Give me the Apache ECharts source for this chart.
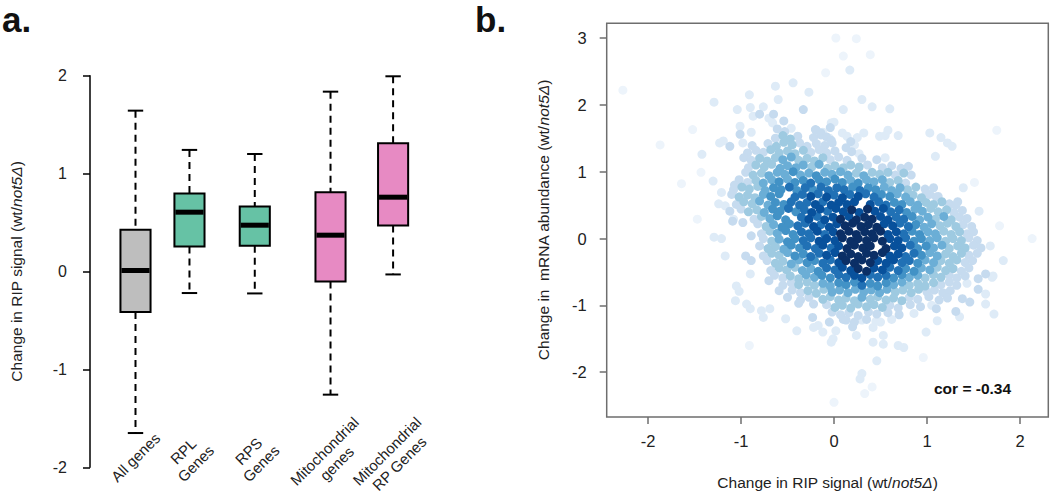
<!DOCTYPE html>
<html>
<head>
<meta charset="utf-8">
<script src="https://cdn.jsdelivr.net/npm/echarts@6/dist/echarts.min.js"></script>
<style>
html,body{margin:0;padding:0;background:#ffffff;}
#chart{width:1050px;height:495px;}
</style>
</head>
<body>
<div id="chart"></div>
<script>
// ---------- Panel a: box plot data ----------
const boxCategories = ['All genes', 'RPL\nGenes', 'RPS\nGenes', 'Mitochondrial\ngenes', 'Mitochondrial\nRP Genes'];
const whiskerLow  = [-1.65, -0.22, -0.224, -1.258, -0.03];
const quartile1   = [-0.414, 0.255, 0.262, -0.102, 0.469];
const medians     = [0.01, 0.606, 0.473, 0.371, 0.759];
const quartile3   = [0.426, 0.796, 0.663, 0.81, 1.31];
const whiskerHigh = [1.643, 1.242, 1.20, 1.837, 1.994];
const boxTickValues = [-2, -1, 0, 1, 2];

// ---------- Panel b: scatter data, triples (RIP change x, mRNA change y, density shade 0-8) ----------
const scatterXTicks = [-2, -1, 0, 1, 2];
const scatterYTicks = [-2, -1, 0, 1, 2, 3];
const corText = 'cor = -0.34';
const cloudRows = [
 [-0.61,1.64,2, -0.53,1.60,2, -0.46,1.65,1, -0.20,1.63,2, -0.12,1.59,1, -0.04,1.66,2],
 [-0.63,1.50,2, -0.55,1.54,3, -0.47,1.49,3, -0.39,1.53,2, -0.22,1.51,2, -0.14,1.55,2, -0.05,1.50,1, 0.14,1.53,1],
 [-0.98,1.43,1, -0.88,1.39,2, -0.71,1.42,2, -0.62,1.38,3, -0.54,1.44,3, -0.45,1.40,3, -0.37,1.43,2, -0.29,1.38,2, -0.19,1.42,2, -0.10,1.39,2, -0.02,1.43,2, 0.22,1.40,1],
 [-0.93,1.28,2, -0.84,1.32,2, -0.76,1.29,2, -0.68,1.33,3, -0.59,1.28,3, -0.50,1.31,3, -0.42,1.27,3, -0.33,1.32,3, -0.25,1.29,2, -0.16,1.33,2, -0.08,1.28,2, 0.01,1.31,2, 0.19,1.30,2, 0.27,1.27,1],
 [-0.97,1.21,2, -0.89,1.17,2, -0.80,1.20,3, -0.72,1.16,3, -0.63,1.21,3, -0.55,1.18,4, -0.46,1.22,4, -0.38,1.17,3, -0.29,1.20,3, -0.21,1.16,3, -0.12,1.21,3, -0.04,1.18,2, 0.05,1.22,2, 0.14,1.17,2, 0.30,1.20,2, 0.46,1.18,2, 0.55,1.21,1],
 [-0.92,1.06,2, -0.84,1.10,3, -0.75,1.07,3, -0.67,1.11,3, -0.58,1.05,4, -0.50,1.09,4, -0.41,1.06,4, -0.33,1.10,4, -0.24,1.07,3, -0.16,1.11,4, -0.07,1.05,3, 0.01,1.09,3, 0.10,1.06,3, 0.18,1.10,3, 0.27,1.07,3, 0.36,1.10,2, 0.52,1.06,2, 0.62,1.09,2, 0.72,1.05,2, 0.80,1.08,2],
 [-0.95,0.99,2, -0.87,0.95,3, -0.78,0.98,3, -0.70,0.94,4, -0.61,0.99,4, -0.53,0.96,4, -0.44,1.00,5, -0.36,0.95,4, -0.27,0.98,4, -0.19,0.94,5, -0.10,0.99,4, -0.02,0.96,4, 0.07,1.00,4, 0.15,0.95,4, 0.24,0.98,3, 0.32,0.94,4, 0.41,0.99,3, 0.49,0.96,3, 0.58,0.99,3, 0.66,0.95,2, 0.75,0.98,3, 0.83,0.95,2],
 [-1.02,0.88,2, -0.93,0.84,2, -0.84,0.87,3, -0.76,0.83,4, -0.67,0.88,4, -0.59,0.85,5, -0.50,0.89,4, -0.42,0.84,5, -0.33,0.87,5, -0.25,0.83,6, -0.16,0.88,5, -0.08,0.85,5, 0.01,0.89,5, 0.09,0.84,5, 0.18,0.87,4, 0.26,0.83,5, 0.35,0.88,4, 0.43,0.85,4, 0.52,0.88,4, 0.60,0.84,3, 0.69,0.87,3, 0.77,0.83,2],
 [-1.08,0.73,2, -0.99,0.77,3, -0.91,0.74,3, -0.82,0.78,3, -0.74,0.72,4, -0.65,0.76,5, -0.57,0.73,5, -0.48,0.77,6, -0.40,0.72,5, -0.31,0.76,6, -0.23,0.73,5, -0.14,0.77,6, -0.06,0.72,6, 0.03,0.76,6, 0.11,0.73,6, 0.20,0.77,5, 0.28,0.72,6, 0.37,0.76,5, 0.45,0.73,5, 0.54,0.77,4, 0.62,0.72,4, 0.71,0.76,4, 0.79,0.73,3, 0.88,0.77,3, 0.98,0.74,2, 1.07,0.76,2],
 [-1.10,0.66,2, -1.02,0.62,3, -0.93,0.65,3, -0.85,0.61,3, -0.76,0.66,4, -0.68,0.63,5, -0.59,0.67,5, -0.42,0.62,6, -0.34,0.66,6, -0.25,0.63,7, -0.17,0.67,6, -0.08,0.62,7, 0.00,0.65,6, 0.09,0.61,7, 0.17,0.66,6, 0.26,0.63,7, 0.34,0.67,6, 0.43,0.62,6, 0.51,0.66,5, 0.60,0.63,5, 0.68,0.67,4, 0.77,0.62,4, 0.85,0.65,3, 0.94,0.61,3, 1.03,0.66,2, 1.12,0.63,2],
 [-1.05,0.51,2, -0.97,0.55,3, -0.88,0.52,3, -0.80,0.56,4, -0.71,0.50,4, -0.63,0.54,5, -0.54,0.51,5, -0.46,0.55,6, -0.37,0.50,6, -0.29,0.54,6, -0.20,0.51,7, -0.12,0.55,6, -0.03,0.50,7, 0.05,0.54,7, 0.14,0.51,7, 0.22,0.55,7, 0.39,0.51,7, 0.48,0.55,6, 0.56,0.50,6, 0.65,0.54,5, 0.73,0.51,5, 0.82,0.55,4, 0.90,0.50,4, 0.99,0.54,3, 1.07,0.51,3, 1.16,0.55,3, 1.24,0.52,2, 1.33,0.55,2],
 [-1.00,0.44,2, -0.92,0.40,3, -0.83,0.43,3, -0.75,0.39,4, -0.66,0.44,5, -0.58,0.41,5, -0.49,0.45,6, -0.41,0.40,5, -0.32,0.43,6, -0.24,0.39,7, -0.15,0.44,7, -0.07,0.41,6, 0.02,0.45,7, 0.10,0.40,7, 0.19,0.43,8, 0.27,0.39,7, 0.36,0.44,8, 0.44,0.41,7, 0.53,0.45,7, 0.61,0.40,6, 0.70,0.43,6, 0.78,0.39,5, 0.87,0.44,4, 0.95,0.41,4, 1.04,0.45,3, 1.12,0.40,3, 1.21,0.43,3, 1.29,0.39,2, 1.38,0.42,2],
 [-0.86,0.29,2, -0.78,0.33,3, -0.69,0.30,4, -0.61,0.34,5, -0.52,0.28,5, -0.35,0.32,6, -0.27,0.29,7, -0.18,0.33,6, -0.10,0.28,7, -0.01,0.32,7, 0.07,0.29,8, 0.16,0.33,7, 0.24,0.28,8, 0.33,0.32,8, 0.41,0.29,8, 0.50,0.33,7, 0.58,0.28,7, 0.67,0.32,6, 0.75,0.29,6, 0.84,0.33,5, 0.92,0.28,4, 1.01,0.32,4, 1.09,0.29,3, 1.18,0.33,4, 1.26,0.28,3, 1.35,0.32,2, 1.43,0.30,2],
 [-0.82,0.22,2, -0.73,0.18,3, -0.65,0.21,4, -0.56,0.17,5, -0.48,0.22,5, -0.39,0.19,6, -0.31,0.23,6, -0.22,0.18,7, -0.14,0.21,6, -0.05,0.17,7, 0.03,0.22,7, 0.12,0.19,8, 0.20,0.23,8, 0.29,0.18,8, 0.37,0.21,8, 0.46,0.17,8, 0.54,0.22,7, 0.63,0.19,7, 0.71,0.23,6, 0.80,0.18,6, 0.88,0.21,5, 0.97,0.17,4, 1.05,0.22,4, 1.14,0.19,3, 1.22,0.23,3, 1.31,0.18,3, 1.39,0.21,2, 1.48,0.18,2],
 [-0.78,0.07,2, -0.69,0.11,3, -0.61,0.08,4, -0.52,0.12,5, -0.44,0.06,5, -0.35,0.10,6, -0.27,0.07,6, -0.18,0.11,7, -0.10,0.06,6, -0.01,0.10,7, 0.07,0.07,8, 0.16,0.11,8, 0.24,0.06,8, 0.33,0.10,8, 0.41,0.07,8, 0.50,0.11,8, 0.58,0.06,7, 0.67,0.10,7, 0.75,0.07,6, 0.84,0.11,5, 0.92,0.06,5, 1.01,0.10,4, 1.09,0.07,4, 1.18,0.11,3, 1.26,0.06,3, 1.35,0.10,3, 1.43,0.07,2, 1.50,0.10,2],
 [-0.76,0.00,2, -0.67,-0.04,3, -0.59,-0.01,4, -0.50,-0.05,5, -0.42,0.00,5, -0.33,-0.03,6, -0.25,0.01,6, -0.16,-0.04,7, -0.08,0.00,7, 0.01,-0.03,7, 0.09,0.01,8, 0.18,-0.04,8, 0.26,0.00,8, 0.35,-0.03,8, 0.43,0.01,8, 0.52,-0.04,8, 0.60,0.00,7, 0.69,-0.03,7, 0.77,0.01,6, 0.86,-0.04,5, 0.94,0.00,5, 1.03,-0.03,4, 1.11,0.01,4, 1.20,-0.04,3, 1.28,0.00,3, 1.37,-0.03,3, 1.45,0.01,2, 1.54,-0.03,2],
 [-0.80,-0.11,2, -0.71,-0.15,3, -0.63,-0.12,3, -0.54,-0.16,4, -0.46,-0.10,5, -0.37,-0.14,5, -0.29,-0.11,6, -0.20,-0.15,6, -0.12,-0.10,7, -0.03,-0.14,6, 0.05,-0.11,7, 0.14,-0.15,8, 0.22,-0.10,8, 0.31,-0.14,8, 0.39,-0.11,8, 0.56,-0.15,8, 0.65,-0.11,7, 0.73,-0.14,7, 0.82,-0.10,6, 0.90,-0.15,5, 0.99,-0.11,5, 1.07,-0.14,4, 1.16,-0.10,4, 1.24,-0.15,3, 1.33,-0.11,3, 1.41,-0.14,3, 1.50,-0.10,2, 1.58,-0.14,2],
 [-0.76,-0.26,2, -0.67,-0.22,3, -0.59,-0.25,3, -0.50,-0.21,4, -0.42,-0.26,5, -0.33,-0.23,5, -0.25,-0.27,6, -0.16,-0.22,6, -0.08,-0.25,7, 0.01,-0.21,7, 0.09,-0.26,8, 0.18,-0.23,8, 0.26,-0.27,8, 0.35,-0.22,8, 0.43,-0.25,8, 0.52,-0.21,8, 0.60,-0.26,7, 0.69,-0.23,7, 0.77,-0.27,6, 0.86,-0.22,6, 0.94,-0.25,5, 1.03,-0.21,4, 1.11,-0.26,4, 1.20,-0.23,3, 1.28,-0.27,3, 1.37,-0.22,3, 1.45,-0.25,2, 1.54,-0.22,2],
 [-0.72,-0.33,2, -0.63,-0.37,3, -0.55,-0.34,3, -0.46,-0.38,4, -0.38,-0.32,4, -0.29,-0.36,5, -0.21,-0.33,5, -0.12,-0.37,6, -0.04,-0.32,6, 0.05,-0.36,7, 0.13,-0.33,8, 0.22,-0.37,8, 0.30,-0.32,8, 0.39,-0.36,8, 0.47,-0.33,7, 0.56,-0.37,7, 0.64,-0.32,7, 0.73,-0.36,6, 0.81,-0.33,6, 0.90,-0.37,5, 0.98,-0.32,4, 1.07,-0.36,4, 1.15,-0.33,3, 1.24,-0.37,3, 1.32,-0.32,3, 1.41,-0.36,2, 1.49,-0.33,2],
 [-0.68,-0.48,2, -0.59,-0.44,3, -0.51,-0.47,3, -0.42,-0.43,3, -0.34,-0.48,4, -0.25,-0.45,4, -0.17,-0.49,5, -0.08,-0.44,6, 0.01,-0.47,6, 0.09,-0.43,7, 0.18,-0.48,7, 0.26,-0.45,8, 0.35,-0.49,8, 0.43,-0.44,7, 0.52,-0.47,7, 0.60,-0.43,6, 0.69,-0.48,6, 0.77,-0.45,5, 0.86,-0.49,5, 0.94,-0.44,4, 1.03,-0.47,4, 1.11,-0.43,3, 1.20,-0.48,3, 1.28,-0.45,3, 1.37,-0.49,2, 1.45,-0.44,2],
 [-0.64,-0.55,2, -0.55,-0.59,2, -0.47,-0.56,3, -0.38,-0.60,3, -0.30,-0.54,4, -0.21,-0.58,4, -0.13,-0.55,5, -0.04,-0.59,5, 0.05,-0.54,6, 0.13,-0.58,6, 0.22,-0.55,7, 0.30,-0.59,7, 0.39,-0.54,6, 0.47,-0.58,6, 0.56,-0.55,6, 0.64,-0.59,5, 0.73,-0.54,5, 0.81,-0.58,4, 0.90,-0.55,4, 0.98,-0.59,3, 1.07,-0.54,3, 1.15,-0.58,3, 1.24,-0.55,2, 1.32,-0.59,2, 1.41,-0.56,2],
 [-0.55,-0.70,2, -0.46,-0.66,2, -0.38,-0.69,3, -0.29,-0.65,3, -0.21,-0.70,3, -0.12,-0.67,4, -0.04,-0.71,4, 0.05,-0.66,5, 0.13,-0.69,5, 0.22,-0.65,5, 0.30,-0.70,6, 0.39,-0.67,5, 0.47,-0.71,5, 0.56,-0.66,5, 0.64,-0.69,4, 0.73,-0.65,4, 0.81,-0.70,3, 0.90,-0.67,3, 0.98,-0.71,3, 1.07,-0.66,3, 1.15,-0.69,2, 1.24,-0.65,2, 1.32,-0.70,2, 1.43,-0.67,1],
 [-0.45,-0.77,2, -0.36,-0.81,2, -0.28,-0.78,3, -0.19,-0.82,3, -0.11,-0.76,3, -0.02,-0.80,4, 0.06,-0.77,4, 0.15,-0.81,4, 0.23,-0.76,4, 0.32,-0.80,4, 0.40,-0.77,4, 0.49,-0.81,4, 0.57,-0.76,4, 0.66,-0.80,3, 0.74,-0.77,3, 0.83,-0.81,3, 0.91,-0.76,3, 1.00,-0.80,2, 1.08,-0.77,2, 1.17,-0.81,2, 1.25,-0.78,2],
 [-0.36,-0.92,2, -0.27,-0.88,2, -0.12,-0.91,3, -0.04,-0.87,3, 0.05,-0.92,3, 0.13,-0.89,3, 0.22,-0.93,3, 0.30,-0.88,4, 0.39,-0.91,3, 0.47,-0.87,3, 0.56,-0.92,3, 0.64,-0.89,3, 0.73,-0.93,3, 0.81,-0.88,2, 0.90,-0.91,2, 1.02,-0.87,2, 1.13,-0.92,2, 1.22,-0.89,2],
 [-0.08,-0.99,2, 0.01,-1.03,3, 0.09,-1.00,3, 0.18,-1.04,3, 0.26,-0.98,3, 0.35,-1.02,3, 0.43,-0.99,3, 0.52,-1.03,3, 0.60,-1.00,2, 0.69,-1.04,2, 0.82,-0.99,2, 0.93,-1.02,2, 1.05,-1.00,1],
 [-0.02,-1.10,2, 0.07,-1.14,2, 0.16,-1.11,2, 0.26,-1.15,2, 0.37,-1.10,2, 0.46,-1.13,2, 0.58,-1.11,2, 0.70,-1.14,2, 0.86,-1.12,1],
 [0.10,-1.21,2, 0.22,-1.25,2, 0.30,-1.22,1, 0.45,-1.24,1, 0.62,-1.21,1]
];
const fringePoints = [
 [-2.27,2.22,0],[-1.87,1.40,0],[-1.64,0.82,0],[-1.43,0.99,0],[-1.52,1.63,0],[-1.42,1.26,1],[-1.47,0.29,0],
 [-1.30,0.86,1],[-1.29,0.02,1],[-1.21,0.00,1],[-1.17,-0.26,1],[-1.29,2.04,1],[-1.19,1.46,1],[-1.23,1.43,1],
 [-1.12,1.38,2],[-1.21,0.69,1],[-1.17,0.49,1],[-1.12,0.41,2],[-1.08,0.29,1],[-1.04,1.93,1],[-1.01,1.68,1],
 [-1.01,1.56,2],[-0.90,1.96,1],[-0.91,2.15,1],[-0.87,1.83,1],[-0.80,1.86,2],[-0.76,1.97,1],[-0.63,2.28,1],
 [-0.60,2.08,1],[-0.44,2.33,1],[-0.27,2.19,1],[-0.33,1.93,2],[-0.54,1.76,2],[-0.65,1.86,2],[-0.70,1.80,1],
 [-0.66,1.73,1],[-0.89,1.59,1],[-1.07,0.80,2],[-1.02,0.62,2],[-1.24,0.52,1],[-1.09,0.26,2],[-0.98,0.24,2],
 [0.02,3.00,0],[0.24,2.99,0],[0.10,2.73,0],[0.17,2.52,1],[0.39,2.75,0],[-0.09,2.48,0],[0.30,2.08,1],
 [0.41,1.97,1],[0.10,1.93,1],[-0.03,1.73,1],[0.60,1.94,1],[0.69,1.54,1],[0.49,1.53,1],[0.00,1.74,1],
 [0.09,1.58,1],[0.18,1.45,2],[0.13,1.36,2],[-0.19,1.62,2],[-0.14,1.58,2],[-0.08,1.52,2],[-0.03,1.47,2],
 [0.25,1.51,1],[0.32,1.58,1],[0.58,1.62,1],[0.55,1.54,1],
 [1.03,1.58,1],[1.15,1.51,1],[1.22,1.43,1],[1.27,1.38,1],[1.09,1.23,1],[1.75,1.62,0],[1.51,0.84,0],
 [1.39,0.76,1],[0.99,0.67,2],[1.10,0.62,2],[1.24,0.50,2],[1.31,0.50,2],[1.56,0.41,1],[1.78,0.19,0],
 [2.13,0.00,0],[1.68,-0.11,1],[1.82,-0.33,1],[1.63,-0.53,2],[1.70,-0.58,1],[1.55,-0.60,2],[1.55,-0.76,2],
 [1.63,-0.83,1],[1.71,-0.56,1],[1.38,-0.90,2],[1.46,-0.95,2],[1.63,-0.98,1],[1.31,-1.09,2],[1.35,-1.17,1],
 [1.72,-1.13,1],[1.10,-1.05,2],[1.11,-1.23,1],[0.99,-1.40,1],[0.96,-1.78,0],[0.75,-1.63,1],[0.69,-1.60,1],
 [0.46,-1.83,1],[0.42,-1.55,1],[0.53,-1.58,1],[0.30,-2.02,1],[0.28,-2.10,1],[0.41,-2.22,0],[0.33,-2.32,0],
 [0.00,-2.45,0],[-0.03,-1.55,1],[-0.01,-1.50,1],[0.24,-1.45,1],[-0.23,-1.18,2],[-0.17,-1.30,1],
 [-0.12,-1.40,1],[-0.05,-1.25,2],[0.02,-1.38,1],[0.13,-1.22,2],[0.20,-1.32,2],[0.35,-1.21,2],[0.42,-1.33,1],
 [0.50,-1.25,1],[0.53,-1.45,1],[-0.22,-1.33,1],[-0.40,-1.38,1],[-0.52,-1.20,1],[-0.91,-1.60,0],
 [-0.59,-0.78,2],[-0.70,-0.63,2],[-0.50,-0.88,2],[-0.38,-0.97,2],[-0.22,-0.98,2],
 [-0.89,0.04,2],[-0.95,-0.26,2],[-0.89,-0.33,2],[-0.90,-0.53,1],[-1.05,-0.71,1],[-1.02,-0.79,1],
 [-0.94,-0.98,1],[-0.90,-1.05,1],[-1.06,-0.93,1],[-0.76,-1.18,1],[-0.78,-1.08,1],[-0.69,-1.05,1]
];

// ---------- layout / style (not data) ----------
const boxSlots = [1, 1.771, 2.704, 3.786, 4.68];
const boxFill = ['#BEBEBE', '#66C2A5', '#66C2A5', '#E78AC3', '#E78AC3'];
const densityBlues = ['#EDF4FB', '#DEEBF7', '#C6DBEF', '#9ECAE1', '#6BAED6', '#4292C6', '#2171B5', '#08519C', '#0B2F66'];
const FONT = '"Liberation Sans", Arial, Helvetica, sans-serif';
const BOX_W = 0.43, CAP_W = 0.22;

const scatterPoints = [];
cloudRows.forEach(function (row) {
  for (let k = 0; k < row.length; k += 3) scatterPoints.push([row[k], row[k + 1], row[k + 2]]);
});
fringePoints.forEach(function (p) { scatterPoints.push(p); });
scatterPoints.sort(function (a, b) { return a[2] - b[2]; });

function renderBox(params, api) {
  const x = api.value(0);
  const lo = api.coord([x, api.value(1)]);
  const q1 = api.coord([x, api.value(2)]);
  const md = api.coord([x, api.value(3)]);
  const q3 = api.coord([x, api.value(4)]);
  const hi = api.coord([x, api.value(5)]);
  const bw = api.size([BOX_W, 0])[0];
  const cw = api.size([CAP_W, 0])[0];
  const cx = lo[0];
  const dash = { stroke: '#000', lineWidth: 2, lineDash: [7, 5], fill: null };
  const solid = { stroke: '#000', lineWidth: 2, fill: null };
  return {
    type: 'group',
    children: [
      { type: 'line', shape: { x1: cx, y1: hi[1], x2: cx, y2: q3[1] }, style: dash },
      { type: 'line', shape: { x1: cx, y1: q1[1], x2: cx, y2: lo[1] }, style: dash },
      { type: 'line', shape: { x1: cx - cw / 2, y1: hi[1], x2: cx + cw / 2, y2: hi[1] }, style: solid },
      { type: 'line', shape: { x1: cx - cw / 2, y1: lo[1], x2: cx + cw / 2, y2: lo[1] }, style: solid },
      { type: 'rect', shape: { x: cx - bw / 2, y: q3[1], width: bw, height: q1[1] - q3[1] },
        style: { fill: boxFill[params.dataIndex], stroke: '#000', lineWidth: 2 } },
      { type: 'line', shape: { x1: cx - bw / 2 + 1, y1: md[1], x2: cx + bw / 2 - 1, y2: md[1] },
        style: { stroke: '#000', lineWidth: 5 } }
    ]
  };
}

function renderBoxLabel(params, api) {
  const p = api.coord([api.value(0), api.value(1)]);
  return {
    type: 'text',
    x: p[0], y: p[1] - 10,
    rotation: Math.PI / 4,
    style: {
      text: boxCategories[params.dataIndex],
      font: '15px ' + FONT,
      fill: '#222',
      align: 'center',
      verticalAlign: 'middle',
      lineHeight: 17.5
    }
  };
}

const titleRich = {
  i: { fontStyle: 'italic', fontSize: 15.5, color: '#222', fontFamily: FONT }
};

const chart = echarts.init(document.getElementById('chart'), null, { renderer: 'svg' });
chart.setOption({
  animation: false,
  backgroundColor: '#ffffff',
  textStyle: { fontFamily: FONT },
  grid: [
    { left: 90, top: 75.7, width: 360.5, height: 391.6 },
    { left: 606.7, top: 23.3, width: 441.6, height: 395, show: true, borderColor: '#6e6e6e', borderWidth: 1.5, backgroundColor: 'transparent' }
  ],
  xAxis: [
    { gridIndex: 0, type: 'value', min: 0.35, max: 5.5, show: false },
    {
      gridIndex: 1, type: 'value', min: -2.444, max: 2.304,
      axisLine: { show: false, onZero: false },
      axisTick: { show: true, length: 7, customValues: scatterXTicks, lineStyle: { color: '#6e6e6e', width: 1.5 } },
      axisLabel: { customValues: scatterXTicks, fontSize: 16.5, color: '#222', margin: 15, fontFamily: FONT },
      splitLine: { show: false },
      name: 'Change in RIP signal (wt/{i|not5Δ})',
      nameLocation: 'middle', nameGap: 57,
      nameTextStyle: { fontSize: 15.5, color: '#222', fontFamily: FONT, rich: titleRich }
    }
  ],
  yAxis: [
    {
      gridIndex: 0, type: 'value', min: -2, max: 2,
      axisLine: { show: true, onZero: false, lineStyle: { color: '#000', width: 1.5 } },
      axisTick: { show: true, length: 7, customValues: boxTickValues, lineStyle: { color: '#000', width: 1.5 } },
      axisLabel: { customValues: boxTickValues, fontSize: 16, color: '#222', margin: 23, fontFamily: FONT },
      splitLine: { show: false },
      name: 'Change in RIP signal (wt/{i|not5Δ})',
      nameLocation: 'middle', nameGap: 66,
      nameTextStyle: { fontSize: 15.5, color: '#222', fontFamily: FONT, rich: titleRich }
    },
    {
      gridIndex: 1, type: 'value', min: -2.67, max: 3.22,
      axisLine: { show: false, onZero: false },
      axisTick: { show: true, length: 7, customValues: scatterYTicks, lineStyle: { color: '#6e6e6e', width: 1.5 } },
      axisLabel: { customValues: scatterYTicks, fontSize: 16.5, color: '#222', margin: 20, fontFamily: FONT },
      splitLine: { show: false },
      name: 'Change in  mRNA abundance (wt/{i|not5Δ})',
      nameLocation: 'middle', nameGap: 55,
      nameTextStyle: { fontSize: 15.5, color: '#222', fontFamily: FONT, rich: titleRich }
    }
  ],
  series: [
    {
      type: 'custom', xAxisIndex: 0, yAxisIndex: 0,
      renderItem: renderBox,
      encode: { x: 0, y: [1, 2, 3, 4, 5] },
      data: boxCategories.map(function (c, i) {
        return [boxSlots[i], whiskerLow[i], quartile1[i], medians[i], quartile3[i], whiskerHigh[i]];
      }),
      z: 3
    },
    {
      type: 'custom', xAxisIndex: 0, yAxisIndex: 0,
      renderItem: renderBoxLabel,
      encode: { x: 0, y: 1 },
      data: boxCategories.map(function (c, i) { return [boxSlots[i], boxTickValues[0]]; }),
      z: 3
    },
    {
      type: 'scatter', xAxisIndex: 1, yAxisIndex: 1,
      symbol: 'circle', symbolSize: 9,
      large: false,
      itemStyle: { opacity: 1 },
      emphasis: { disabled: true },
      data: scatterPoints.map(function (p) {
        return { value: [p[0], p[1]], itemStyle: { color: densityBlues[p[2]] } };
      })
    }
  ],
  graphic: [
    { type: 'text', x: 2, y: 2.2, style: { text: 'a.', font: 'bold 35px ' + FONT, fill: '#111', align: 'left', verticalAlign: 'top' } },
    { type: 'text', x: 475, y: 2.2, style: { text: 'b.', font: 'bold 35px ' + FONT, fill: '#111', align: 'left', verticalAlign: 'top' } },
    { type: 'text', x: 934, y: 388.3, z: 10, style: { text: corText, font: 'bold 15.5px ' + FONT, fill: '#111', align: 'left', verticalAlign: 'middle' } }
  ]
});
</script>
</body>
</html>
